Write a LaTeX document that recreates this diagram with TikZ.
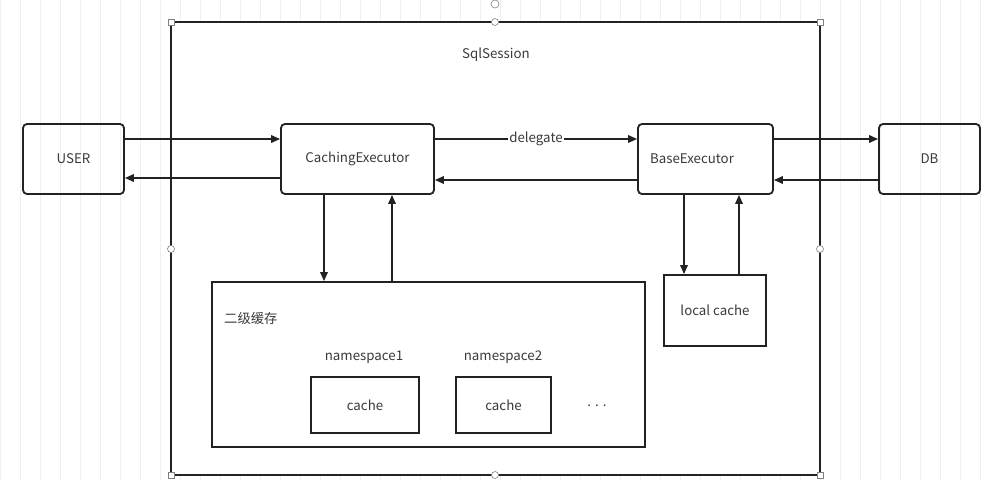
\documentclass[tikz,border=0pt]{standalone}
\usepackage{fontspec}
\setmainfont{Noto Sans CJK SC}
\usetikzlibrary{arrows.meta}
\definecolor{ink}{HTML}{222222}
\definecolor{txt}{HTML}{3A3A3A}
\definecolor{gridc}{HTML}{F0F0F0}
\begin{document}
\begin{tikzpicture}[x=1pt,y=-1pt,
  every node/.style={font=\fontsize{13.3}{15}\selectfont,text=txt,inner sep=0pt},
  rbox/.style={draw=ink,line width=1.8pt,rounded corners=4pt},
  sbox/.style={draw=ink,line width=1.8pt},
  conn/.style={draw=ink,line width=1.8pt,-{Triangle[length=9pt,width=7.5pt]}},
  hsq/.style={draw=gray,fill=white,line width=0.6pt,minimum size=6pt,inner sep=0pt},
  hci/.style={draw=gray,fill=white,line width=0.6pt,circle,minimum size=7pt,inner sep=0pt}]
\useasboundingbox (0,0) rectangle (1000,480);
\fill[white] (0,0) rectangle (1000,480);
\draw[gridc,line width=1pt,step=20] (0,0) grid (1000,480);
% SqlSession
\draw[sbox,fill=white] (171,22) rectangle (820,475);
\node (sqltitle) at (496,55) {SqlSession};
% main boxes
\node[rbox,minimum width=101pt,minimum height=70pt] (user) at (73.5,159) {USER};
\node[rbox,minimum width=153pt,minimum height=70pt] (ce) at (357.5,159) {CachingExecutor};
\node[rbox,minimum width=135pt,minimum height=70pt] (be) at (705.5,159) {};
\node (betxt) at (692,159) {BaseExecutor};
\node[rbox,minimum width=101pt,minimum height=70pt] (db) at (929.5,159) {DB};
% second level cache
\node[sbox,minimum width=433pt,minimum height=165pt] (l2) at (428.5,364.5) {};
\node[anchor=west] (l2t) at (224,318) {二级缓存};
\node (ns1) at (364,357) {namespace1};
\node (ns2) at (503,357) {namespace2};
\node[sbox,minimum width=108pt,minimum height=56pt] (c1) at (365,405) {cache};
\node[sbox,minimum width=95pt,minimum height=56pt] (c2) at (503.5,405) {cache};
\node (dots) at (597,406) {. . .};
\node[sbox,minimum width=102pt,minimum height=71pt] (lc) at (715,310.5) {local cache};
% connectors
\draw[conn] (user.east |- 0,139) -- (ce.west |- 0,139);
\draw[conn] (ce.west |- 0,178) -- (user.east |- 0,178);
\draw[conn] (ce.east |- 0,139) -- node[fill=white,inner xsep=1pt,inner ysep=2pt] (dl) {delegate} (be.west |- 0,139);
\draw[conn] (be.west |- 0,180) -- (ce.east |- 0,180);
\draw[conn] (be.east |- 0,139) -- (db.west |- 0,139);
\draw[conn] (db.west |- 0,180) -- (be.east |- 0,180);
\draw[conn] (ce.south -| 324,0) -- (l2.north -| 324,0);
\draw[conn] (l2.north -| 392,0) -- (ce.south -| 392,0);
\draw[conn] (be.south -| 684,0) -- (lc.north -| 684,0);
\draw[conn] (lc.north -| 739,0) -- (be.south -| 739,0);
% selection handles
\node[hsq] (h1) at (171,22) {};
\node[hsq] (h2) at (820,22) {};
\node[hsq] (h3) at (171,475) {};
\node[hsq] (h4) at (820,475) {};
\node[hci] (h5) at (495,22) {};
\node[hci] (h6) at (171,249) {};
\node[hci] (h7) at (820,249) {};
\node[hci] (h8) at (495,475) {};
\node[hci,minimum size=8pt] (hr) at (495,4) {};
\end{tikzpicture}
\end{document}
